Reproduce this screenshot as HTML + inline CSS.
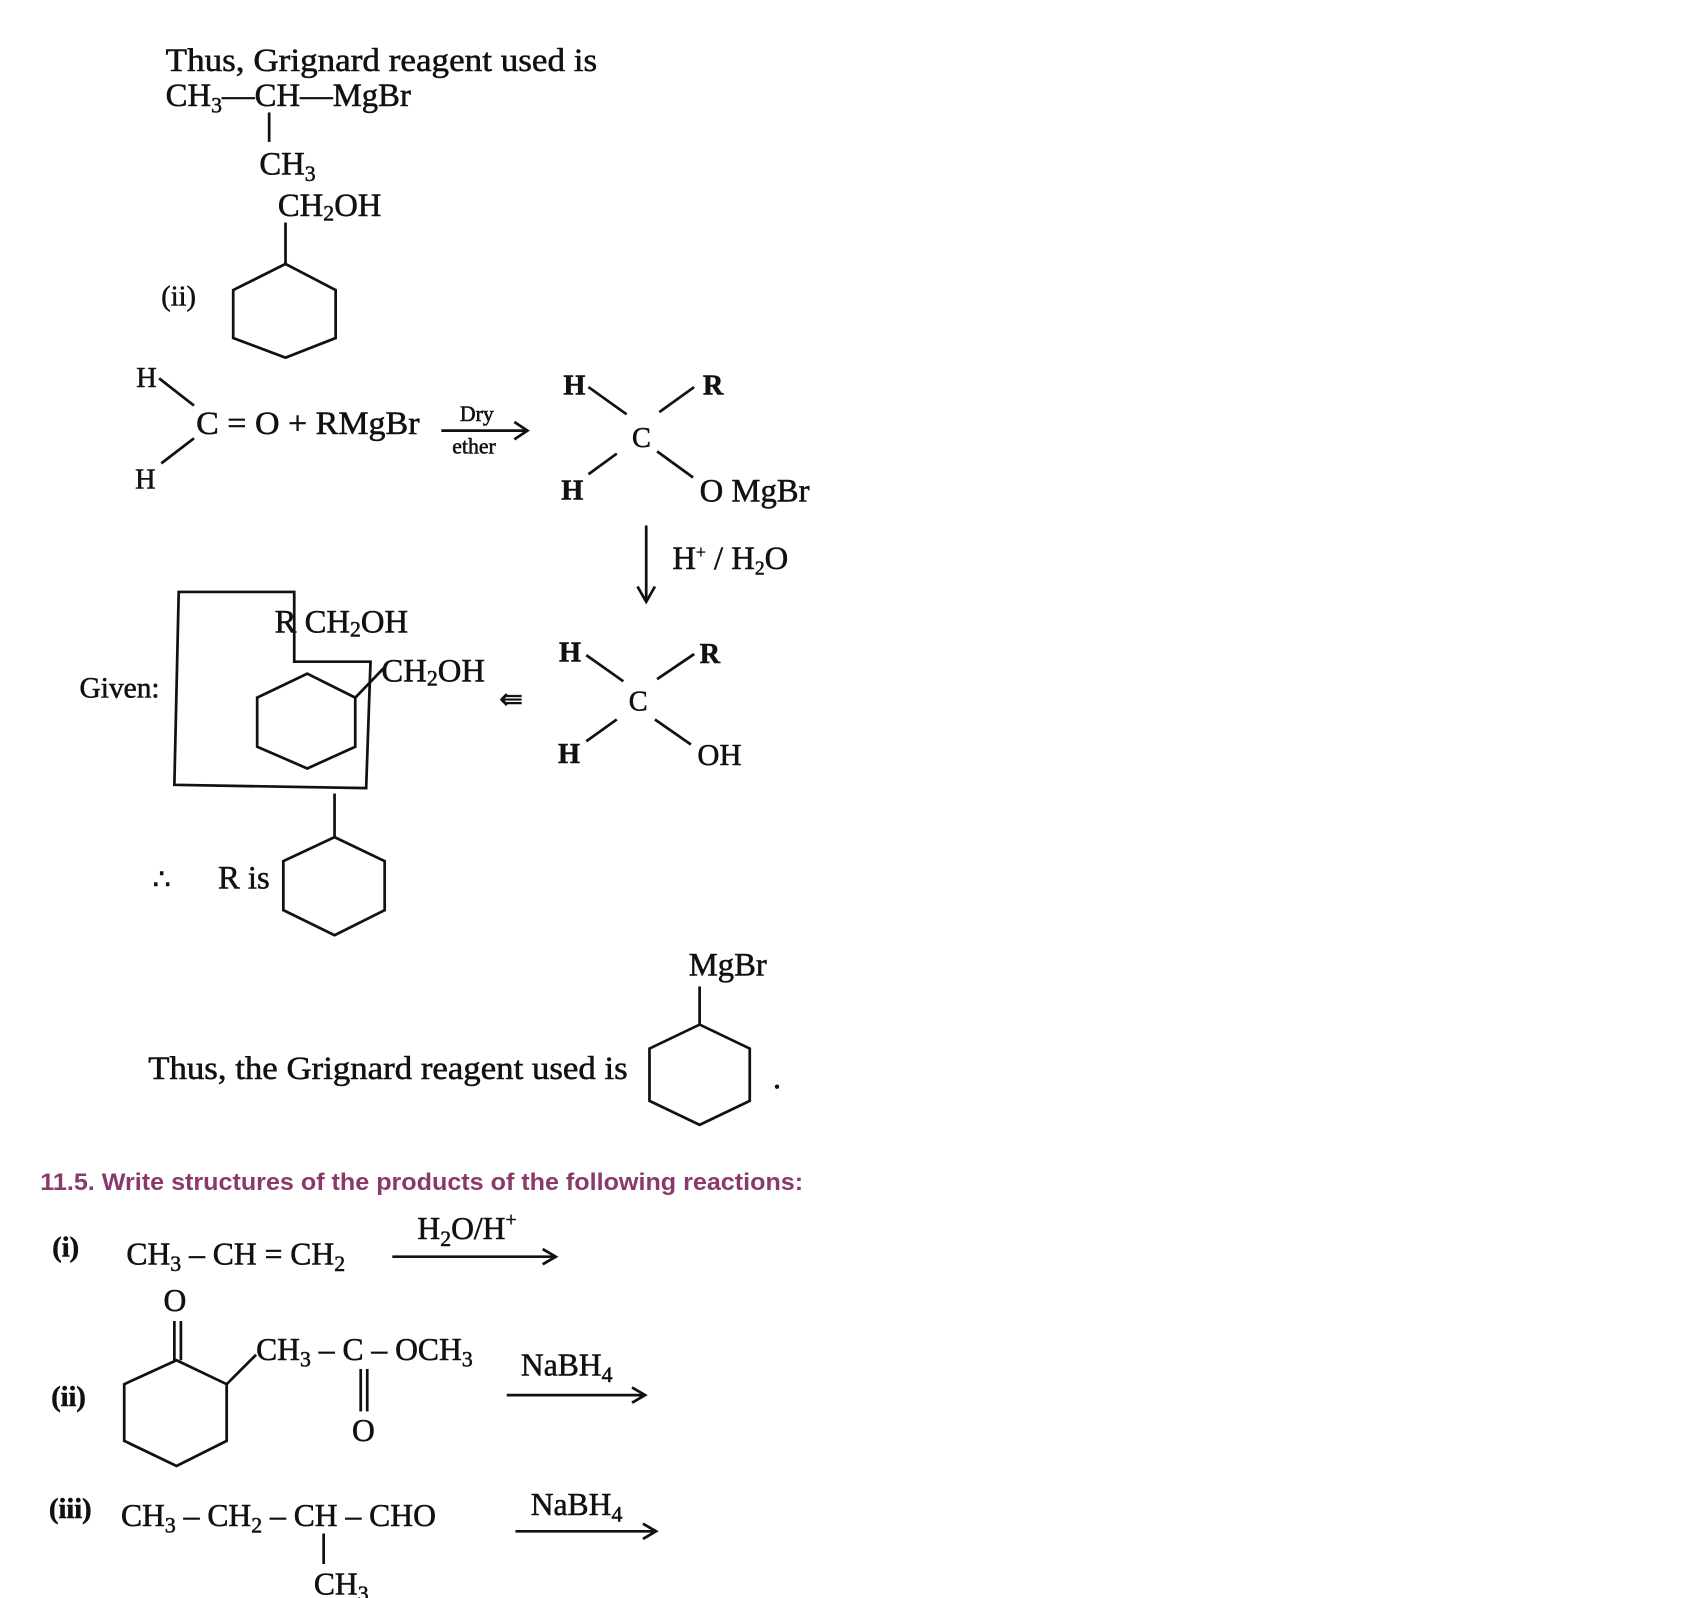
<!DOCTYPE html>
<html><head><meta charset="utf-8"><style>
html,body{margin:0;padding:0;background:#fff;}
svg{display:block;}
text{font-family:"Liberation Serif",serif;fill:#111;stroke:#111;stroke-width:0.5;}
.s{font-family:"Liberation Sans",sans-serif;stroke:none;}
</style></head><body>
<svg width="1700" height="1598" viewBox="0 0 1560 1466" xmlns="http://www.w3.org/2000/svg">
<g stroke="#111" stroke-width="2.5" fill="none">
<line x1="247" y1="103" x2="247" y2="130"/>
<line x1="262" y1="204" x2="262" y2="242"/>
<polygon points="262,242 308,266 308,310 262,328 214,310 214,266"/>
<line x1="146" y1="347" x2="178" y2="372"/>
<line x1="178" y1="402" x2="148" y2="425"/>
<line x1="405" y1="395" x2="482" y2="395"/>
<polyline points="472,387 484,395 472,403"/>
<line x1="540" y1="355" x2="575" y2="380"/>
<line x1="637" y1="355" x2="605" y2="378"/>
<line x1="566" y1="416" x2="540" y2="435"/>
<line x1="603" y1="414" x2="636" y2="438"/>
<line x1="593" y1="482" x2="593" y2="550"/>
<polyline points="585,538 593,552 601,538"/>
<polygon points="164,543 270,543 270,607 340,607 336,723 160,720"/>
<polygon points="282,618 326,640 326,685 282,705 236,685 236,640"/>
<line x1="326" y1="640" x2="352" y2="613"/>
<line x1="538" y1="601" x2="572" y2="625"/>
<line x1="637" y1="600" x2="603" y2="623"/>
<line x1="566" y1="660" x2="538" y2="680"/>
<line x1="601" y1="660" x2="634" y2="683"/>
<line x1="307" y1="728" x2="307" y2="768"/>
<polygon points="307,768 353,790 353,835 307,858 260,835 260,790"/>
<line x1="642" y1="905" x2="642" y2="940"/>
<polygon points="642,940 688,962 688,1010 642,1032 596,1010 596,962"/>
<line x1="360" y1="1153" x2="508" y2="1153"/>
<polyline points="498,1146 510,1153 498,1160"/>
<line x1="160" y1="1212" x2="160" y2="1248"/>
<line x1="166" y1="1212" x2="166" y2="1248"/>
<polygon points="162,1248 208,1270 208,1322 162,1345 114,1322 114,1270"/>
<line x1="208" y1="1270" x2="235" y2="1243"/>
<line x1="331" y1="1256" x2="331" y2="1295"/>
<line x1="337" y1="1256" x2="337" y2="1295"/>
<line x1="465" y1="1280" x2="590" y2="1280"/>
<polyline points="580,1273 592,1280 580,1287"/>
<line x1="297" y1="1407" x2="297" y2="1435"/>
<line x1="473" y1="1405" x2="600" y2="1405"/>
<polyline points="590,1398 602,1405 590,1412"/>
</g>
<g font-size="30">
<text x="152" y="65" textLength="396" lengthAdjust="spacingAndGlyphs">Thus, Grignard reagent used is</text>
<text x="152" y="97">CH<tspan font-size="20" dy="6">3</tspan><tspan dy="-6">—CH—MgBr</tspan></text>
<text x="238" y="160">CH<tspan font-size="20" dy="6">3</tspan></text>
<text x="255" y="198">CH<tspan font-size="20" dy="4">2</tspan><tspan dy="-4">OH</tspan></text>
<text x="148" y="280" font-size="26">(ii)</text>
<text x="125" y="355" font-size="26">H</text>
<text x="180" y="398" textLength="205" lengthAdjust="spacingAndGlyphs">C = O + RMgBr</text>
<text x="124" y="448" font-size="26">H</text>
<text x="422" y="386" font-size="20">Dry</text>
<text x="415" y="416" font-size="20">ether</text>
<text x="517" y="362" font-size="26" font-weight="bold">H</text>
<text x="645" y="362" font-size="26" font-weight="bold">R</text>
<text x="580" y="410" font-size="26">C</text>
<text x="515" y="458" font-size="26" font-weight="bold">H</text>
<text x="642" y="460">O MgBr</text>
<text x="617" y="522">H<tspan font-size="16" dy="-10">+</tspan><tspan dy="10"> / H</tspan><tspan font-size="18" dy="5">2</tspan><tspan dy="-5">O</tspan></text>
<text x="252" y="580">R CH<tspan font-size="20" dy="4">2</tspan><tspan dy="-4">OH</tspan></text>
<text x="350" y="625">CH<tspan font-size="20" dy="4">2</tspan><tspan dy="-4">OH</tspan></text>
<text x="73" y="640" font-size="27">Given:</text>
<text x="458" y="650" font-size="26">⇚</text>
<text x="513" y="607" font-size="26" font-weight="bold">H</text>
<text x="642" y="608" font-size="26" font-weight="bold">R</text>
<text x="577" y="652" font-size="26">C</text>
<text x="512" y="700" font-size="26" font-weight="bold">H</text>
<text x="640" y="702" font-size="28">OH</text>
<text x="140" y="815" font-size="26">∴</text>
<text x="200" y="815">R is</text>
<text x="632" y="895">MgBr</text>
<text x="136" y="990" textLength="440" lengthAdjust="spacingAndGlyphs">Thus, the Grignard reagent used is</text>
<circle cx="713" cy="997" r="2" fill="#111"/>
</g>
<text class="s" x="37" y="1092" font-size="22" font-weight="bold" style="fill:#8a3a6a" textLength="700" lengthAdjust="spacingAndGlyphs">11.5. Write structures of the products of the following reactions:</text>
<g font-size="29">
<text x="48" y="1153" font-size="26" font-weight="bold">(i)</text>
<text x="116" y="1160">CH<tspan font-size="20" dy="6">3</tspan><tspan dy="-6"> – CH = CH</tspan><tspan font-size="20" dy="6">2</tspan></text>
<text x="383" y="1137">H<tspan font-size="20" dy="6">2</tspan><tspan dy="-6">O/H</tspan><tspan font-size="18" dy="-12">+</tspan></text>
<text x="150" y="1203">O</text>
<text x="235" y="1248">CH<tspan font-size="20" dy="6">3</tspan><tspan dy="-6"> – C – OCH</tspan><tspan font-size="20" dy="6">3</tspan></text>
<text x="323" y="1322">O</text>
<text x="478" y="1262">NaBH<tspan font-size="20" dy="6">4</tspan></text>
<text x="47" y="1290" font-size="26" font-weight="bold">(ii)</text>
<text x="45" y="1393" font-size="26" font-weight="bold">(iii)</text>
<text x="111" y="1400">CH<tspan font-size="20" dy="6">3</tspan><tspan dy="-6"> – CH</tspan><tspan font-size="20" dy="6">2</tspan><tspan dy="-6"> – CH – CHO</tspan></text>
<text x="288" y="1463">CH<tspan font-size="20" dy="6">3</tspan></text>
<text x="487" y="1390">NaBH<tspan font-size="20" dy="6">4</tspan></text>
</g>
</svg>
</body></html>
